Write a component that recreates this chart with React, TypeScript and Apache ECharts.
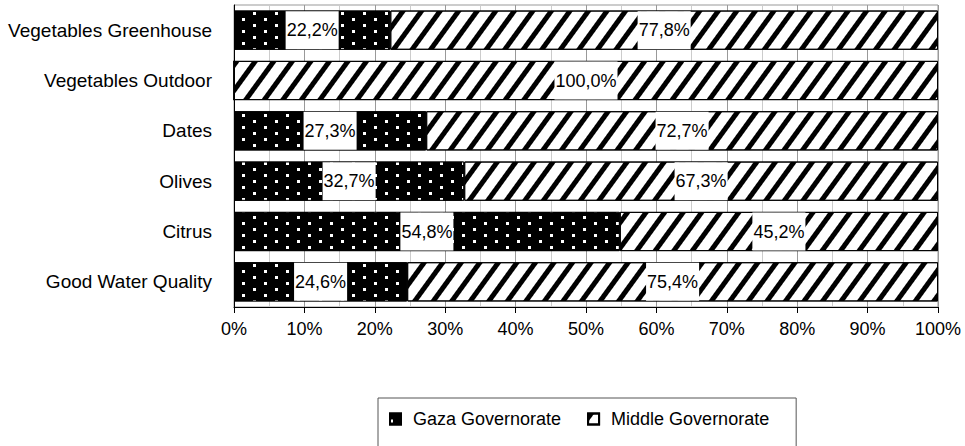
import React, { useEffect, useRef } from "react";
import * as echarts from "echarts";

const categories = [
  "Vegetables Greenhouse",
  "Vegetables Outdoor",
  "Dates",
  "Olives",
  "Citrus",
  "Good Water Quality",
];
const gazaValues = [22.2, 0, 27.3, 32.7, 54.8, 24.6];
const middleValues = [77.8, 100.0, 72.7, 67.3, 45.2, 75.4];
const seriesNames = ["Gaza Governorate", "Middle Governorate"];

const FONT = "'Liberation Sans', Arial, sans-serif";

const fmt = (p: any) => Number(p.value).toFixed(1).replace(".", ",") + "%";

const toData = (arr: number[]) =>
  arr.map((v) => (v === 0 ? { value: v, label: { show: false } } : v));

export default function App() {
  const ref = useRef<HTMLDivElement>(null);
  useEffect(() => {
    if (!ref.current) return;
    const chart = echarts.init(ref.current, null, { renderer: "svg" });
    const labelCommon = {
      show: true,
      position: "inside",
      formatter: fmt,
      backgroundColor: "#fff",
      color: "#000",
      fontSize: 18,
      fontFamily: FONT,
      lineHeight: 38,
      padding: [0, 1],
    };
    chart.setOption({
      animation: false,
      backgroundColor: "#fff",
      grid: {
        left: 234,
        right: 27,
        top: 5,
        bottom: 139,
        show: true,
        borderColor: "#999",
        borderWidth: 1,
        backgroundColor: "transparent",
      },
      legend: {
        data: seriesNames,
        left: 378,
        top: 398,
        orient: "horizontal",
        icon: "rect",
        itemWidth: 11,
        itemHeight: 11,
        itemGap: 26,
        padding: [12, 27, 20, 11],
        borderColor: "#555",
        borderWidth: 1,
        textStyle: {
          fontSize: 18,
          color: "#000",
          fontFamily: FONT,
          padding: [0, 0, 0, 7],
        },
      },
      xAxis: {
        type: "value",
        min: 0,
        max: 100,
        interval: 10,
        axisLine: { show: true, lineStyle: { color: "#000", width: 1 } },
        axisTick: { show: true, length: 6, lineStyle: { color: "#000" } },
        axisLabel: {
          formatter: (v: number) => v + "%",
          fontSize: 18,
          color: "#000",
          fontFamily: FONT,
          margin: 13,
        },
        splitLine: { show: true, lineStyle: { color: "#999", width: 1 } },
        minorTick: { show: false, splitNumber: 2 },
        minorSplitLine: { show: true, lineStyle: { color: "#ccc", width: 1 } },
      },
      yAxis: {
        type: "category",
        data: categories,
        inverse: true,
        axisLine: { show: true, lineStyle: { color: "#000", width: 1 } },
        axisTick: { show: false },
        axisLabel: {
          fontSize: 19,
          color: "#000",
          fontFamily: FONT,
          margin: 22,
        },
        splitLine: { show: false },
      },
      series: [
        {
          name: seriesNames[0],
          type: "bar",
          stack: "total",
          barCategoryGap: "22%",
          data: toData(gazaValues),
          itemStyle: {
            color: "#000",
            borderColor: "#000",
            borderWidth: 1,
            decal: {
              symbol: "rect",
              symbolSize: 1,
              color: "#fff",
              dashArrayX: [
                [3, 19],
                [0, 11, 3, 8],
              ],
              dashArrayY: [3, 3],
            },
          },
          label: labelCommon,
        },
        {
          name: seriesNames[1],
          type: "bar",
          stack: "total",
          barCategoryGap: "22%",
          data: toData(middleValues),
          itemStyle: {
            color: "#fff",
            borderColor: "#000",
            borderWidth: 1,
            decal: {
              symbol: "rect",
              symbolSize: 1,
              color: "#000",
              dashArrayX: [1, 0],
              dashArrayY: [5, 10],
              rotation: -Math.PI * 0.3,
            },
          },
          label: labelCommon,
        },
      ],
    });
    return () => chart.dispose();
  }, []);
  return (
    <div
      ref={ref}
      style={{ position: "fixed", left: 0, top: 0, width: 965, height: 446 }}
    />
  );
}
